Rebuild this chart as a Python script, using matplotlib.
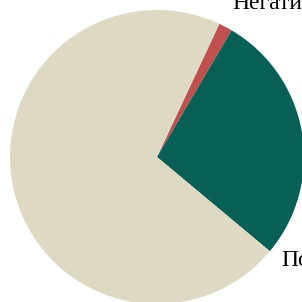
import numpy as np
import matplotlib
matplotlib.use("Agg")
import matplotlib.pyplot as plt

labels = ["Негативные", "Нейтральные", "Позитивные", "Без оценки"]
values = [1.5, 27.6, 0.0, 70.9]
colors = ["#C0504D", "#066056", "#4F81BD", "#DDD9C3"]

fig = plt.figure(figsize=(3.02, 3.02), dpi=100)
ax = fig.add_axes([0, 0, 1, 1])

wedges, texts = ax.pie(values, labels=labels, colors=colors, startangle=64.9,
                       counterclock=False, labeldistance=1.1,
                       textprops={"family": "Liberation Serif", "fontsize": 17})

# the small red slice label sits a bit further out, nudged left
w = wedges[0]
mid = np.deg2rad((w.theta1 + w.theta2) / 2)
texts[0].set_position((1.18 * np.cos(mid) - 0.035, 1.18 * np.sin(mid)))

r = 147.0
ax.set_xlim(-157 / r, 145 / r)
ax.set_ylim(-145 / r, 157 / r)
ax.set_aspect("equal")
ax.axis("off")

fig.savefig("out.png", dpi=100)
